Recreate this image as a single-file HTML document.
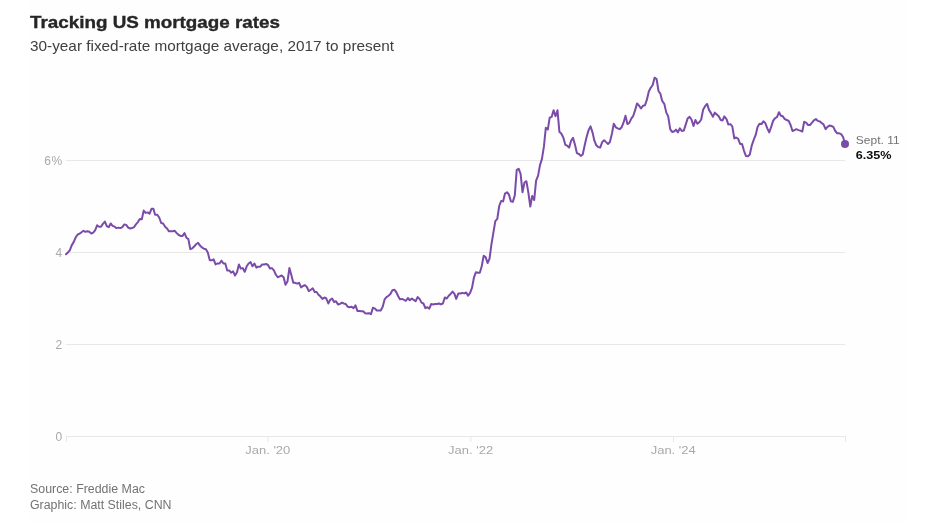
<!DOCTYPE html>
<html><head><meta charset="utf-8"><title>Tracking US mortgage rates</title>
<style>
html,body{margin:0;padding:0;background:#fff;}
body{width:936px;height:524px;overflow:hidden;font-family:"Liberation Sans",Arial,sans-serif;}
svg{display:block;}
text{font-family:"Liberation Sans",Arial,sans-serif;}
.t{font-size:16.5px;font-weight:700;fill:#262626;stroke:#262626;stroke-width:0.35px;}
.s{font-size:14.6px;fill:#404040;}
.ax{font-size:12px;fill:#a9a9a9;letter-spacing:0.4px;}
.xl{font-size:11.3px;fill:#a9a9a9;}
.src{font-size:12px;fill:#727272;}
.lab{font-size:11px;fill:#727272;}
.val{font-size:11px;font-weight:700;fill:#0c0c0c;}
</style></head><body>
<svg width="936" height="524" viewBox="0 0 936 524">
<rect width="936" height="524" fill="#fff"/>
<rect x="30" y="0" width="876" height="524" fill="#fefefe"/>
<text class="t" x="30" y="27.5" textLength="250" lengthAdjust="spacingAndGlyphs">Tracking US mortgage rates</text>
<text class="s" x="30" y="51.3" textLength="364" lengthAdjust="spacingAndGlyphs">30-year fixed-rate mortgage average, 2017 to present</text>
<g shape-rendering="crispEdges" stroke="#e8e8e8" stroke-width="1">
<line x1="66" x2="845" y1="160.5" y2="160.5"/>
<line x1="66" x2="845" y1="252.5" y2="252.5"/>
<line x1="66" x2="845" y1="344.5" y2="344.5"/>
<line x1="66" x2="846" y1="436.5" y2="436.5"/>
<line x1="66.5" x2="66.5" y1="436" y2="442"/>
<line x1="845.5" x2="845.5" y1="436" y2="442"/>
</g>
<g stroke="#e8e8e8" stroke-width="1">
<line x1="267.96" x2="267.96" y1="436" y2="442"/><line x1="470.82" x2="470.82" y1="436" y2="442"/><line x1="673.41" x2="673.41" y1="436" y2="442"/>
</g>
<g class="ax" text-anchor="end">
<text x="62.5" y="164.7">6%</text>
<text x="62.5" y="256.7">4</text>
<text x="62.5" y="348.7">2</text>
<text x="62.5" y="440.7">0</text>
</g>
<g class="xl">
<text x="245.3" y="454.1" textLength="45" lengthAdjust="spacingAndGlyphs">Jan. '20</text>
<text x="448.1" y="454.1" textLength="45" lengthAdjust="spacingAndGlyphs">Jan. '22</text>
<text x="650.7" y="454.1" textLength="45" lengthAdjust="spacingAndGlyphs">Jan. '24</text>
</g>
<path d="M66.0,254.3L67.9,252.5L69.9,250.2L71.8,245.1L73.8,241.9L75.7,237.3L77.7,234.5L79.6,233.6L81.5,232.2L83.5,230.8L85.4,231.8L87.4,231.3L89.3,231.8L91.3,233.6L93.2,232.7L95.1,230.4L97.1,225.3L99.0,226.7L101.0,226.7L102.9,223.9L104.9,221.6L106.8,226.2L108.7,227.2L110.7,223.5L112.6,225.8L114.6,226.7L116.5,228.1L118.5,227.6L120.4,228.1L122.3,227.2L124.3,224.4L126.2,224.9L128.2,227.6L130.1,228.5L132.0,228.1L134.0,227.2L135.9,224.4L137.9,222.1L139.8,218.9L141.8,219.3L143.7,210.6L145.6,212.9L147.6,212.4L149.5,213.8L151.5,208.8L153.4,208.8L155.1,214.7L157.3,214.7L159.2,217.5L161.2,223.0L163.1,223.5L165.1,226.7L167.0,228.5L169.0,231.3L170.9,231.3L172.8,231.3L174.8,230.8L176.7,233.1L178.7,235.0L180.6,235.9L182.6,235.9L184.5,233.1L186.4,237.7L188.4,239.1L190.3,249.2L192.3,248.3L194.2,246.5L196.2,244.2L198.1,242.8L200.0,245.6L202.0,247.4L203.9,248.8L205.9,249.2L207.8,252.5L209.8,260.3L211.7,260.3L213.6,259.4L215.6,264.4L217.2,263.5L219.5,263.5L221.4,260.7L223.4,263.5L225.3,263.5L227.2,270.4L229.2,270.4L231.1,272.7L233.1,271.3L235.0,275.5L237.0,272.2L238.9,264.4L240.8,268.6L242.8,268.1L244.7,271.8L246.7,266.3L248.6,263.5L250.6,262.1L252.5,266.3L254.4,263.5L256.4,267.6L258.0,266.7L260.3,266.7L262.2,264.4L264.1,264.4L266.1,264.0L268.0,264.9L270.0,268.6L271.9,268.1L273.9,270.4L275.8,274.5L277.7,277.3L279.7,276.4L281.6,275.5L283.6,277.3L285.5,284.7L287.5,281.4L289.4,268.1L291.3,275.0L293.3,282.8L295.2,282.8L297.2,283.7L299.1,282.8L301.1,287.4L303.0,286.0L304.9,285.1L306.9,287.0L308.8,291.1L310.8,289.7L312.7,288.3L314.7,292.0L316.6,292.0L318.5,294.8L320.5,296.6L322.4,298.9L324.4,297.5L326.3,298.5L328.3,303.5L330.2,299.8L332.1,298.5L334.1,302.1L336.0,301.2L338.0,304.4L339.9,304.0L341.9,302.6L343.8,303.5L345.7,304.0L347.7,306.7L349.6,307.2L351.6,306.7L353.5,308.1L355.5,305.4L357.4,310.9L359.1,310.9L361.3,311.3L363.2,311.3L365.2,313.2L367.1,313.6L369.1,313.2L371.0,314.1L372.9,307.7L374.9,308.6L376.8,310.4L378.8,310.4L380.7,310.4L382.7,306.7L384.6,299.4L386.5,297.1L388.5,295.7L390.4,293.9L392.4,290.2L394.3,289.7L396.2,292.0L398.2,296.2L400.1,299.4L402.1,298.9L404.0,299.8L406.0,300.8L407.9,298.0L409.8,300.3L411.8,298.5L413.7,299.8L415.7,301.2L417.6,297.1L419.6,298.9L421.5,302.6L423.4,303.5L425.4,308.1L427.3,307.2L429.3,308.6L431.2,304.0L433.2,304.4L435.1,304.0L437.0,304.0L439.0,303.5L440.9,304.4L442.9,303.5L444.8,297.5L446.8,298.5L448.7,295.7L450.6,293.9L452.6,291.6L454.5,293.9L456.2,298.9L458.4,293.4L460.1,293.4L462.3,292.9L464.2,293.4L466.2,292.5L468.1,295.7L470.1,292.9L472.0,287.9L474.0,277.3L475.9,272.2L477.8,272.7L479.8,272.7L481.7,266.3L483.7,255.7L485.6,257.1L487.6,263.0L489.5,258.9L491.4,244.6L493.4,232.7L495.3,221.2L497.3,218.9L499.2,206.0L501.2,200.9L503.1,201.4L505.0,193.6L507.0,192.2L508.9,194.5L510.9,201.4L512.8,201.9L514.8,195.4L516.7,170.1L518.6,168.7L520.6,173.8L522.5,192.2L524.5,182.5L526.4,181.2L528.3,192.2L530.3,206.5L532.2,195.9L534.2,200.0L536.1,180.7L538.1,175.6L540.0,165.1L541.9,159.1L543.9,146.7L545.8,127.8L547.8,129.6L549.7,117.7L551.7,116.8L553.6,110.3L555.5,116.3L557.5,110.3L559.4,131.9L561.1,133.3L563.3,137.5L565.3,144.8L567.2,145.7L569.1,147.6L571.1,140.7L573.0,137.9L575.0,144.8L576.9,153.1L578.9,154.0L580.8,155.9L582.7,154.5L584.7,145.3L586.6,137.0L588.6,130.1L590.5,126.4L592.5,132.4L594.4,140.7L596.3,145.3L598.3,147.1L600.2,147.6L602.2,142.1L604.1,140.2L606.1,142.1L608.0,143.9L609.9,142.1L611.9,133.8L613.8,123.7L615.8,127.3L617.7,128.3L619.7,129.2L621.6,127.3L623.5,122.7L625.5,115.8L627.4,124.1L629.4,122.7L631.3,118.6L633.3,115.8L635.2,109.9L637.1,103.4L639.1,105.7L641.0,108.5L643.0,105.7L644.9,105.3L646.9,99.7L648.8,91.5L650.7,87.8L652.7,85.0L654.6,77.7L656.6,79.0L658.5,91.0L660.4,93.8L662.1,100.7L664.3,103.9L666.3,112.6L668.2,116.3L670.2,129.2L672.1,131.9L674.0,131.5L676.0,129.6L677.9,132.4L679.9,128.3L681.8,131.0L683.8,130.6L685.7,124.6L687.6,118.6L689.6,116.8L691.5,119.5L693.5,126.0L695.4,120.0L697.4,123.7L699.3,122.3L701.2,119.5L703.2,109.4L705.1,106.2L707.1,103.9L709.0,109.9L711.0,113.1L712.9,116.8L714.8,112.6L716.8,114.5L718.7,116.3L720.7,120.0L722.6,120.4L724.3,116.3L726.5,119.1L728.4,124.6L730.4,124.1L732.3,126.4L734.3,138.4L736.2,137.5L738.2,138.8L740.1,143.9L742.0,143.9L744.0,150.8L745.9,155.9L747.9,156.3L749.8,154.5L751.8,145.3L753.7,139.8L755.6,135.2L757.6,126.9L759.5,123.7L761.5,124.1L763.4,121.4L765.1,122.7L767.3,128.3L769.2,132.4L771.2,126.9L773.1,120.9L775.1,118.1L777.0,117.2L779.0,112.2L780.9,115.8L782.8,116.3L784.8,119.1L786.7,120.0L788.7,120.9L790.6,125.0L792.5,131.0L794.5,130.1L796.4,129.2L798.4,130.1L800.3,130.6L802.3,131.5L804.2,121.8L806.1,122.7L808.1,125.0L810.0,125.0L812.0,122.7L813.9,120.4L815.9,119.1L817.8,120.9L819.7,121.4L821.4,122.7L823.6,124.6L825.6,129.2L827.5,126.9L829.5,125.5L831.4,126.0L833.3,126.9L835.3,131.0L837.2,133.3L839.2,133.3L841.1,134.2L843.1,137.0L845.0,143.9" fill="none" stroke="#7a4ba9" stroke-width="2" stroke-linejoin="round" stroke-linecap="round"/>
<circle cx="845.0" cy="143.9" r="4" fill="#7a4ba9"/>
<text class="lab" x="855.8" y="144.3" textLength="43.8" lengthAdjust="spacingAndGlyphs">Sept. 11</text>
<text class="val" x="855.8" y="158.8" textLength="35.8" lengthAdjust="spacingAndGlyphs">6.35%</text>
<text class="src" x="30" y="492.8" textLength="115" lengthAdjust="spacingAndGlyphs">Source: Freddie Mac</text>
<text class="src" x="30" y="508.5" textLength="141.5" lengthAdjust="spacingAndGlyphs">Graphic: Matt Stiles, CNN</text>
</svg>
</body></html>
